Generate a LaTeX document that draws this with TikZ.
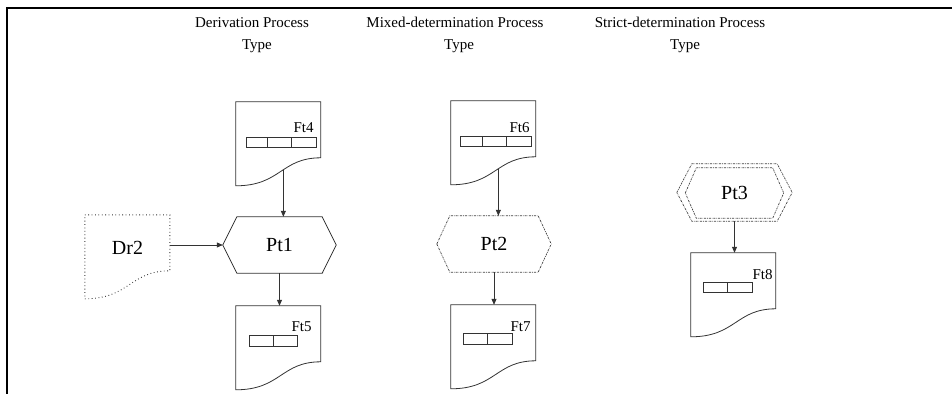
\documentclass[tikz,border=0pt]{standalone}
\usepackage{fontspec}
\setmainfont{Liberation Serif}
\usetikzlibrary{arrows.meta,calc}
\tikzset{
  ln/.style={draw=black!80, line width=0.8pt},
  arr/.style={ln, -{Triangle[length=6pt,width=5pt]}},
  box/.style={draw=none, minimum width=85pt, minimum height=84pt, inner sep=0pt},
  hexbox/.style={draw=none, inner sep=0pt},
  dotline/.style={draw=black!80, line width=0.9pt, dash pattern=on 0.8pt off 2.6pt},
  dashdotline/.style={draw=black!75, line width=0.7pt, dash pattern=on 2pt off 1pt on 0.6pt off 1pt},
  title/.style={anchor=base, font=\fontsize{15}{18}\selectfont},
  ftlabel/.style={anchor=base east, font=\fontsize{15}{18}\selectfont, inner sep=0pt},
  ptlabel/.style={font=\fontsize{20}{24}\selectfont}
}
\newcommand\docshape[2]{%
  \draw[#2, shift={(#1.north west)}] (0,0) -- (85,0) -- (85,56)
    .. controls (45,56) and (45,84) .. coordinate[pos=0.45] (#1-out) (0,84) -- cycle;}
\newcommand\hexshape[3]{%
  \draw[#2] (#1.west) -- ([xshift=#3]#1.north west) -- ([xshift=-#3]#1.north east)
    -- (#1.east) -- ([xshift=-#3]#1.south east) -- ([xshift=#3]#1.south west) -- cycle;}
\begin{document}
\begin{tikzpicture}[x=1pt,y=-1pt]
\useasboundingbox (0,0) rectangle (952,394);
% frame
\draw[line width=2pt, black] (952,8) -- (7,8) -- (7,394);
% titles
\node[title] (t1a) at (252,27) {Derivation Process};
\node[title] (t1b) at (257,49) {Type};
\node[title] (t2a) at (455,27) {Mixed-determination Process};
\node[title] (t2b) at (459,49) {Type};
\node[title] (t3a) at (680,27) {Strict-determination Process};
\node[title] (t3b) at (685,49) {Type};

% documents
\node[box] (ft4) at (278.5,144) {};
\node[box] (ft5) at (278.5,348) {};
\node[box] (ft6) at (493.5,143) {};
\node[box] (ft7) at (493.5,347) {};
\node[box] (ft8) at (733.5,295) {};
\node[box] (dr2) at (127.5,257) {};
\docshape{ft4}{ln}
\docshape{ft5}{ln}
\docshape{ft6}{ln}
\docshape{ft7}{ln}
\docshape{ft8}{ln}
\docshape{dr2}{dotline}
\node[ptlabel] (dr2t) at (127.5,248) {Dr2};

% fields and labels
\begin{scope}[shift={(ft4.north west)}]
  \draw[ln] (11,36) rectangle (81,46) (32,36) -- (32,46) (56,36) -- (56,46);
  \node[ftlabel] (ft4l) at (78,31) {Ft4};
\end{scope}
\begin{scope}[shift={(ft6.north west)}]
  \draw[ln] (10,36) rectangle (81,46) (32,36) -- (32,46) (56,36) -- (56,46);
  \node[ftlabel] (ft6l) at (79,32) {Ft6};
\end{scope}
\begin{scope}[shift={(ft5.north west)}]
  \draw[ln] (14,30) rectangle (62,41) (38,30) -- (38,41);
  \node[ftlabel] (ft5l) at (76,26) {Ft5};
\end{scope}
\begin{scope}[shift={(ft7.north west)}]
  \draw[ln] (13,29) rectangle (62,40) (37,29) -- (37,40);
  \node[ftlabel] (ft7l) at (80,27) {Ft7};
\end{scope}
\begin{scope}[shift={(ft8.north west)}]
  \draw[ln] (13,30) rectangle (62,40) (37,30) -- (37,40);
  \node[ftlabel] (ft8l) at (82,27) {Ft8};
\end{scope}

% processes
\node[hexbox, minimum width=113pt, minimum height=56pt, ptlabel] (pt1) at (279.5,245) {Pt1};
\hexshape{pt1}{ln}{14pt}
\node[hexbox, minimum width=114pt, minimum height=56pt, ptlabel] (pt2) at (494,244) {Pt2};
\hexshape{pt2}{dashdotline}{13pt}
\node[hexbox, minimum width=115pt, minimum height=57pt] (pt3) at (734.5,192.5) {};
\hexshape{pt3}{dashdotline}{15pt}
\node[hexbox, minimum width=98pt, minimum height=50pt, ptlabel] (pt3in) at (734.5,193) {Pt3};
\hexshape{pt3in}{dashdotline}{11pt}

% connectors
\draw[arr] (ft4-out) -- (ft4-out |- pt1.north);
\draw[arr] (dr2.east |- pt1.west) -- (pt1.west);
\draw[arr] (pt1.south) -- (pt1.south |- ft5.north);
\draw[arr] (ft6-out) -- (ft6-out |- pt2.north);
\draw[arr] (pt2.south) -- (pt2.south |- ft7.north);
\draw[arr] (pt3.south) -- (pt3.south |- ft8.north);
\end{tikzpicture}
\end{document}
